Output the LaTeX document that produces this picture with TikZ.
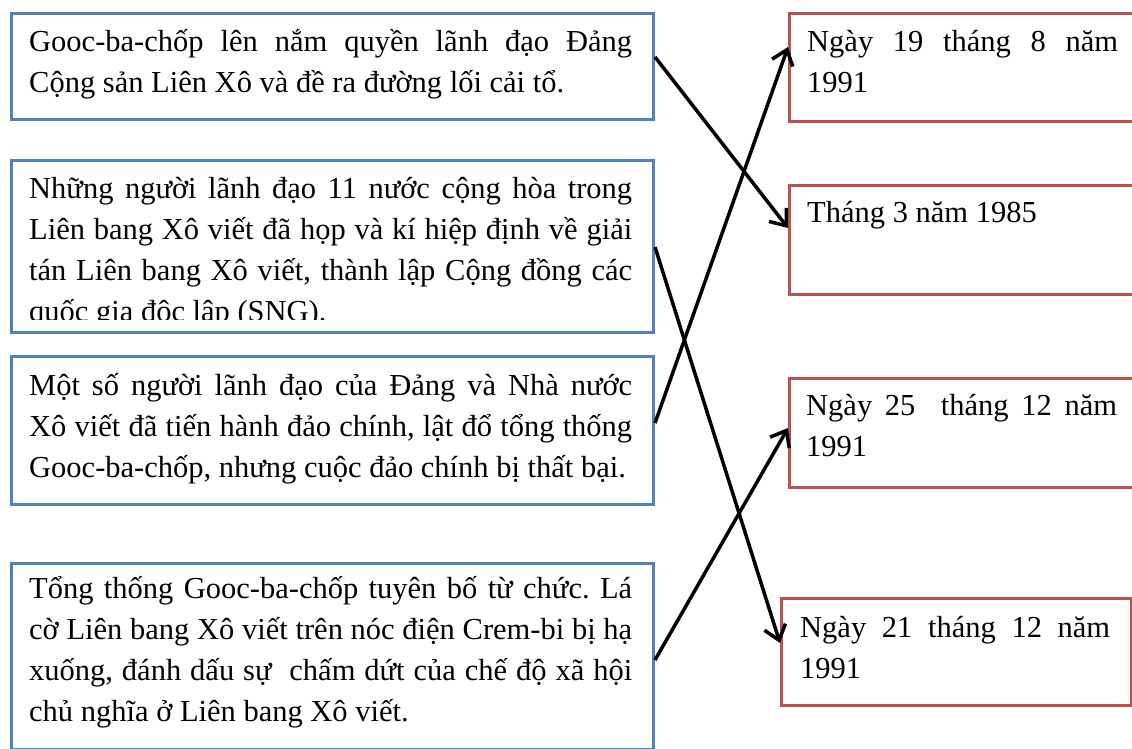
\documentclass[tikz,border=0pt]{standalone}
\usepackage{fontspec}
\setmainfont{Liberation Serif}
\usetikzlibrary{arrows.meta}
\definecolor{boxblue}{RGB}{79,129,189}
\definecolor{boxred}{RGB}{192,80,77}
\newcommand{\mypar}[2]{\parbox[t]{#1}{\frenchspacing\tolerance=10000\hbadness=10000\hyphenpenalty=10000 #2}}
\begin{document}
\begin{tikzpicture}[x=1pt,y=-1pt,
  bluebox/.style={draw=boxblue, line width=3pt, inner sep=0pt, anchor=north west},
  redbox/.style={draw=boxred, line width=3pt, inner sep=0pt, anchor=north west},
  txt/.style={anchor=base west, inner sep=0pt, font=\fontsize{30.5}{41}\selectfont},
  link/.style={line width=3.5pt, -{Straight Barb[length=14pt,width=22pt,line width=3.5pt]}}]
\useasboundingbox (0,0) rectangle (1132,749);
\clip (0,0) rectangle (1132,749);
\fill[white] (0,0) rectangle (1132,749);
% left boxes
\node[bluebox, minimum width=642pt, minimum height=106pt] (b1) at (10,12) {};
\node[bluebox, minimum width=642pt, minimum height=172pt] (b2) at (10,159) {};
\node[bluebox, minimum width=642pt, minimum height=148pt] (b3) at (10,355) {};
\node[bluebox, minimum width=642pt, minimum height=186pt] (b4) at (10,562) {};
% right boxes
\node[redbox, minimum width=360pt, minimum height=108pt] (r1) at (788,12) {};
\node[redbox, minimum width=360pt, minimum height=109pt] (r2) at (788,184) {};
\node[redbox, minimum width=360pt, minimum height=109pt] (r3) at (788,377) {};
\node[redbox, minimum width=350pt, minimum height=107pt] (r4) at (780,597) {};
% texts
\node[txt] (t1) at (29,52) {\mypar{603pt}{Gooc-ba-chốp lên nắm quyền lãnh đạo Đảng\linebreak Cộng sản Liên Xô và đề ra đường lối cải tổ.}};
\begin{scope}
\clip (12,161) rectangle (650,319);
\node[txt] (t2) at (29,198) {\mypar{603pt}{Những người lãnh đạo 11 nước cộng hòa trong\linebreak Liên bang Xô viết đã họp và kí hiệp định về giải\linebreak tán Liên bang Xô viết, thành lập Cộng đồng các\linebreak quốc gia độc lập (SNG).}};
\end{scope}
\node[txt] (t3) at (29,395) {\mypar{603pt}{Một số người lãnh đạo của Đảng và Nhà nước\linebreak Xô viết đã tiến hành đảo chính, lật đổ tổng thống\linebreak Gooc-ba-chốp, nhưng cuộc đảo chính bị thất bại.}};
\node[txt] (t4) at (29,598) {\mypar{603pt}{Tổng thống Gooc-ba-chốp tuyên bố từ chức. Lá\linebreak cờ Liên bang Xô viết trên nóc điện Crem-bi bị hạ\linebreak xuống, đánh dấu sự\ \ chấm dứt của chế độ xã hội\linebreak chủ nghĩa ở Liên bang Xô viết.}};
\node[txt] (s1) at (807,52) {\mypar{311pt}{Ngày 19 tháng 8 năm\linebreak 1991}};
\node[txt] (s2) at (807,222) {\mypar{311pt}{Tháng 3 năm 1985}};
\node[txt] (s3) at (806,415) {\mypar{311pt}{Ngày 25\ \ tháng 12 năm\linebreak 1991}};
\node[txt] (s4) at (800,637) {\mypar{310pt}{Ngày 21 tháng 12 năm\linebreak 1991}};
% connectors
\draw[link] (b1.east |- 0,57) -- (r2.west |- 0,228);
\draw[link] (b2.east |- 0,247) -- (r4.west |- 0,643);
\draw[link] (b3.east |- 0,423) -- (r1.west |- 0,47);
\draw[link] (b4.east |- 0,660) -- (r3.west |- 0,428);
\end{tikzpicture}
\end{document}
